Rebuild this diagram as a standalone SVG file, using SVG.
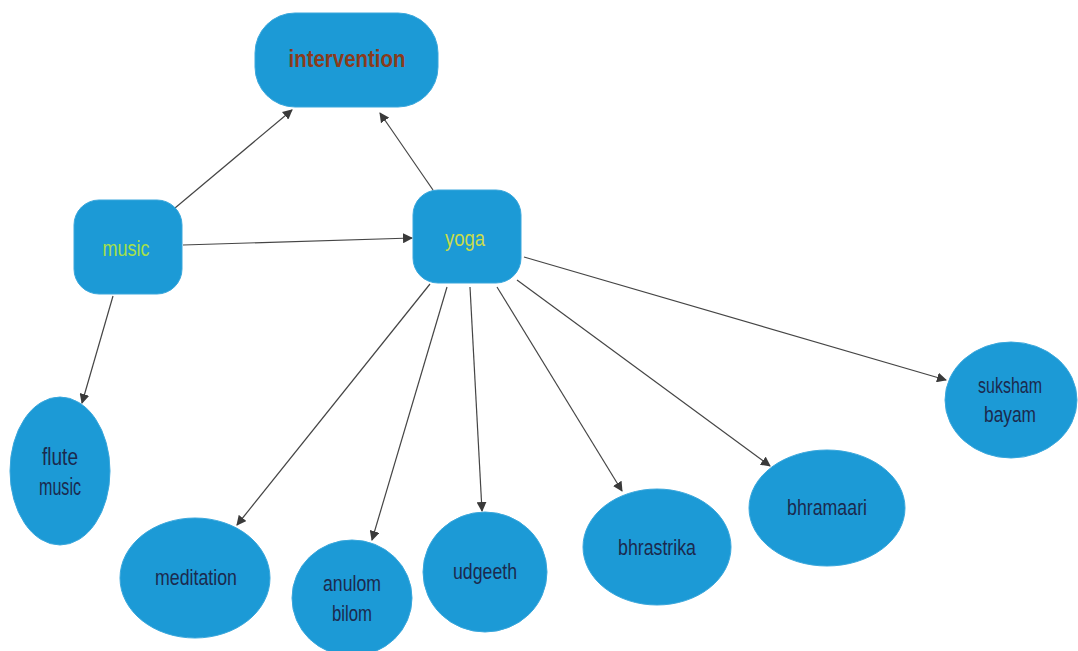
<svg xmlns="http://www.w3.org/2000/svg" width="1078" height="651" viewBox="0 0 1078 651">
  <style>
    .node { fill: #1c9ad6; stroke: #3aa7dc; stroke-width: 1; }
    .lbl { font-family: "Liberation Sans Narrow", "Liberation Sans", sans-serif; font-size: 22px; fill: #1b2a4e; text-anchor: middle; }
    .edge { stroke: #454545; stroke-width: 1.2; fill: none; marker-end: url(#arrow); }
  </style>
  <defs>
    <marker id="arrow" viewBox="0 0 10 10" refX="9" refY="5" markerWidth="10" markerHeight="10" markerUnits="userSpaceOnUse" orient="auto">
      <path d="M0,0 L10,5 L0,10 z" fill="#3a3a3a"/>
    </marker>
  </defs>
  <rect width="1078" height="651" fill="#ffffff"/>

  <g id="connectors">
    <line class="edge" x1="175" y1="208" x2="292" y2="110"/>
    <line class="edge" x1="433" y1="190" x2="380" y2="113"/>
    <line class="edge" x1="183" y1="245" x2="412" y2="238"/>
    <line class="edge" x1="113" y1="296" x2="82" y2="403"/>
    <line class="edge" x1="430" y1="284" x2="237" y2="525"/>
    <line class="edge" x1="447" y1="287" x2="372" y2="540"/>
    <line class="edge" x1="470" y1="287" x2="482" y2="511"/>
    <line class="edge" x1="497" y1="287" x2="622" y2="491"/>
    <line class="edge" x1="517" y1="280" x2="770" y2="466"/>
    <line class="edge" x1="524" y1="257" x2="946" y2="380"/>
  </g>

  <g id="intervention">
    <rect class="node" x="255" y="13" width="183" height="94" rx="40" ry="40"/>
    <text class="lbl" x="347" y="67" font-weight="bold" style="fill:#8a3b1c;font-size:23px" textLength="117" lengthAdjust="spacingAndGlyphs">intervention</text>
  </g>

  <g id="music">
    <rect class="node" x="74" y="200" width="108" height="94" rx="25" ry="25"/>
    <text class="lbl" x="126" y="256" style="fill:#a6e04a" textLength="47" lengthAdjust="spacingAndGlyphs">music</text>
  </g>

  <g id="yoga">
    <rect class="node" x="413" y="190" width="108" height="93" rx="25" ry="25"/>
    <text class="lbl" x="465" y="246" style="fill:#c9dc4a" textLength="40" lengthAdjust="spacingAndGlyphs">yoga</text>
  </g>

  <g id="flute-music">
    <ellipse class="node" cx="60" cy="471" rx="50" ry="74"/>
    <text class="lbl" x="60" y="465" style="font-size:23px" textLength="36" lengthAdjust="spacingAndGlyphs">flute</text>
    <text class="lbl" x="60" y="495" style="font-size:23px" textLength="42" lengthAdjust="spacingAndGlyphs">music</text>
  </g>

  <g id="meditation">
    <ellipse class="node" cx="195" cy="578" rx="75" ry="60"/>
    <text class="lbl" x="196" y="585" textLength="82" lengthAdjust="spacingAndGlyphs">meditation</text>
  </g>

  <g id="anulom-bilom">
    <ellipse class="node" cx="352" cy="598" rx="60" ry="58"/>
    <text class="lbl" x="352" y="591" textLength="58" lengthAdjust="spacingAndGlyphs">anulom</text>
    <text class="lbl" x="352" y="621" textLength="40" lengthAdjust="spacingAndGlyphs">bilom</text>
  </g>

  <g id="udgeeth">
    <ellipse class="node" cx="485" cy="572" rx="62" ry="60"/>
    <text class="lbl" x="485" y="579" textLength="64" lengthAdjust="spacingAndGlyphs">udgeeth</text>
  </g>

  <g id="bhrastrika">
    <ellipse class="node" cx="657" cy="547" rx="74" ry="58"/>
    <text class="lbl" x="657" y="555" textLength="78" lengthAdjust="spacingAndGlyphs">bhrastrika</text>
  </g>

  <g id="bhramaari">
    <ellipse class="node" cx="827" cy="508" rx="78" ry="58"/>
    <text class="lbl" x="827" y="515" textLength="80" lengthAdjust="spacingAndGlyphs">bhramaari</text>
  </g>

  <g id="suksham-bayam">
    <ellipse class="node" cx="1011" cy="400" rx="66" ry="58"/>
    <text class="lbl" x="1010" y="393" textLength="64" lengthAdjust="spacingAndGlyphs">suksham</text>
    <text class="lbl" x="1010" y="422" textLength="52" lengthAdjust="spacingAndGlyphs">bayam</text>
  </g>
</svg>
